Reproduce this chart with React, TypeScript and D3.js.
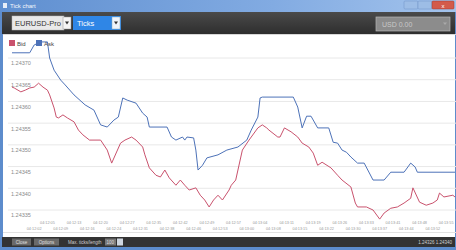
import * as d3 from "d3";

// tick index, price
const ask: [number, number][] = [
  [0, 1.243712], [8, 1.243712], [10, 1.24373], [13, 1.243737], [16, 1.243737],
  [17, 1.2437], [19, 1.243672], [22, 1.243649], [24, 1.243638], [28, 1.243615],
  [33, 1.243592], [37, 1.24358], [40, 1.243546], [43, 1.243541], [46, 1.243557],
  [48, 1.243564], [50, 1.243608], [52, 1.243603], [56, 1.243596], [59, 1.243573],
  [61, 1.243564], [62, 1.243541], [70, 1.243541], [72, 1.243518], [74, 1.243511],
  [77, 1.243518], [78, 1.243511], [79, 1.243518], [82, 1.243516], [83, 1.243488],
  [84, 1.243442], [86, 1.243453], [88, 1.24347], [93, 1.243477], [97, 1.243488],
  [102, 1.243495], [106, 1.243511], [108, 1.243534], [111, 1.243564], [112, 1.243608],
  [113, 1.24361], [127, 1.24361], [129, 1.243587], [131, 1.243539], [133, 1.243566],
  [135, 1.243566], [138, 1.243539], [143, 1.243539], [145, 1.243506], [147, 1.243504],
  [149, 1.243488], [151, 1.243483], [153, 1.243472], [156, 1.243458], [159, 1.243458],
  [163, 1.243419], [168, 1.243419], [171, 1.243437], [177, 1.243437], [180, 1.243458],
  [182, 1.243449], [183, 1.243437], [200, 1.243437],
];

const bid: [number, number][] = [
  [0, 1.243633], [1, 1.243631], [4, 1.243622], [6, 1.243626], [8, 1.243631],
  [10, 1.243633], [12, 1.243642], [14, 1.243633], [16, 1.243626], [17, 1.243615],
  [19, 1.243585], [20, 1.243564], [21, 1.243562], [23, 1.243569], [25, 1.243562],
  [28, 1.243553], [30, 1.243534], [32, 1.243523], [35, 1.243511], [40, 1.243511],
  [43, 1.243488], [45, 1.243458], [49, 1.243504], [51, 1.243511], [54, 1.243518],
  [56, 1.243511], [59, 1.243495], [60, 1.243477], [62, 1.243447], [65, 1.24343],
  [67, 1.243426], [69, 1.243442], [71, 1.243424], [74, 1.243407], [76, 1.243419],
  [78, 1.243407], [80, 1.243396], [83, 1.243401], [85, 1.243384], [87, 1.243373],
  [89, 1.243357], [91, 1.243373], [93, 1.243384], [95, 1.243373], [98, 1.243396],
  [99, 1.243407], [101, 1.243419], [104, 1.243488], [107, 1.243511], [111, 1.243539],
  [113, 1.243546], [115, 1.243539], [116, 1.243534], [120, 1.243518], [121, 1.243518],
  [123, 1.243539], [126, 1.24353], [129, 1.243518], [131, 1.243504], [134, 1.243495],
  [136, 1.243481], [138, 1.243453], [140, 1.24346], [144, 1.243447], [147, 1.24343],
  [149, 1.243419], [153, 1.243403], [155, 1.243366], [156, 1.243357], [160, 1.243357],
  [163, 1.24335], [166, 1.243329], [168, 1.243343], [171, 1.243354], [174, 1.243357],
  [177, 1.243366], [180, 1.243377], [181, 1.243401], [184, 1.243368], [187, 1.243361],
  [190, 1.243366], [192, 1.243373], [193, 1.243389], [195, 1.24338], [199, 1.243384],
  [200, 1.24338],
];

const yLabels = ["1.24370", "1.24365", "1.24360", "1.24355", "1.24350", "1.24345", "1.24340", "1.24335"];

const xLabelTicks = [10, 16, 22, 28, 34, 40, 46, 52, 58, 64, 70, 76, 82, 88, 94, 100, 106, 112, 118, 124, 130, 136, 142, 148, 154, 160, 166, 172, 178, 184, 190, 196];
const xLabels = [
  "04:12:02", "04:12:05", "04:12:09", "04:12:13", "04:12:16", "04:12:20", "04:12:24", "04:12:27",
  "04:12:31", "04:12:35", "04:12:38", "04:12:42", "04:12:46", "04:12:49", "04:12:53", "04:12:57",
  "04:13:00", "04:13:04", "04:13:08", "04:13:11", "04:13:15", "04:13:19", "04:13:22", "04:13:26",
  "04:13:30", "04:13:33", "04:13:37", "04:13:41", "04:13:44", "04:13:48", "04:13:52", "04:13:55",
];

const W = 456;
const H = 250;
const FONT = "'Liberation Sans', Arial, sans-serif";
const BID_COLOR = "#c9526d";
const ASK_COLOR = "#4d72b8";

export default function App() {
  const x = d3.scaleLinear().domain([0, 200]).range([12, 455]);
  const y = d3.scaleLinear().domain([1.24335, 1.2437]).range([210, 58]);
  const line = d3
    .line<[number, number]>()
    .x((d) => x(d[0]))
    .y((d) => y(d[1]));

  return (
    <div style={{ position: "absolute", left: 0, top: 0 }}>
      <svg width={W} height={H} style={{ display: "block", fontFamily: FONT }}>
        <defs>
          <linearGradient id="titleGrad" x1="0" y1="0" x2="1" y2="0">
            <stop offset="0" stopColor="#5f8fd0" />
            <stop offset="0.6" stopColor="#82abe2" />
            <stop offset="1" stopColor="#a3c3ec" />
          </linearGradient>
          <linearGradient id="barGrad" x1="0" y1="0" x2="0" y2="1">
            <stop offset="0" stopColor="#4a4a4a" />
            <stop offset="1" stopColor="#2e2e2e" />
          </linearGradient>
        </defs>

        {/* window frame */}
        <rect x={0} y={0} width={W} height={H} fill="#5d8ccc" />
        <rect x={0} y={0} width={W} height={12} fill="url(#titleGrad)" />
        <rect x={3} y={3} width={4} height={5} fill="#e8eef8" />
        <text x={10} y={8} fontSize={6} fill="#f4f7fc">Tick chart</text>
        <rect x={404} y={1} width={14} height={8} rx={1} fill="#9dbde6" stroke="#6f93c4" strokeWidth={0.5} />
        <rect x={418} y={1} width={14} height={8} rx={1} fill="#9dbde6" stroke="#6f93c4" strokeWidth={0.5} />
        <rect x={432} y={1} width={22} height={8} rx={1} fill="#d35a4a" stroke="#9d3b30" strokeWidth={0.5} />
        <text x={443} y={7.5} fontSize={6} fill="#fff" textAnchor="middle">x</text>

        {/* toolbar */}
        <rect x={2} y={12} width={W - 3} height={22} fill="url(#barGrad)" />
        <rect x={12} y={16} width={52} height={14} fill="#e9e9e9" stroke="#bdbdbd" strokeWidth={0.5} />
        <text x={15} y={26} fontSize={7.5} fill="#333">EURUSD-Pro</text>
        <rect x={63} y={17} width={8} height={12} fill="#f5f5f5" stroke="#999" strokeWidth={0.5} />
        <path d="M65,21.5 L69,21.5 L67,24.5 Z" fill="#333" />
        <rect x={73} y={16} width={48} height={14} fill="#2f86e6" />
        <text x={77} y={26} fontSize={7.5} fill="#fff">Ticks</text>
        <rect x={112} y={17} width={8} height={12} fill="#f0f4fa" stroke="#8ab" strokeWidth={0.5} />
        <path d="M114,21.5 L118,21.5 L116,24.5 Z" fill="#333" />
        <rect x={376} y={17} width={74} height={14} fill="#8c8c8c" stroke="#b5b5b5" strokeWidth={0.7} />
        <text x={382} y={27} fontSize={7} fill="#c8c8c8">USD 0.00</text>
        <path d="M443,22.5 L447,22.5 L445,25 Z" fill="#aaa" />

        {/* chart area */}
        <rect x={3} y={34} width={W - 4} height={203} fill="#ffffff" />
        <line x1={3} x2={W} y1={34.5} y2={34.5} stroke="#d8d8d8" />

        {yLabels.map((lbl) => {
          const v = parseFloat(lbl);
          return (
            <g key={lbl}>
              <line x1={8} x2={W} y1={y(v)} y2={y(v)} stroke="#e8e8e8" strokeWidth={1} />
              <text x={11} y={y(v) + 6} dominantBaseline="middle" fontSize={5.5} fill="#8a8a8a">
                {lbl}
              </text>
            </g>
          );
        })}

        {xLabelTicks.map((t, i) => (
          <text
            key={t}
            x={x(t)}
            y={i % 2 === 0 ? 229.5 : 224}
            textAnchor="middle"
            fontSize={3.8}
            fill="#999"
          >
            {xLabels[i]}
          </text>
        ))}
        <line x1={3} x2={W} y1={232.5} y2={232.5} stroke="#e2e2e2" />

        <path d={line(bid) ?? ""} fill="none" stroke={BID_COLOR} strokeWidth={1} />
        <path d={line(ask) ?? ""} fill="none" stroke={ASK_COLOR} strokeWidth={1} />

        {/* legend */}
        <rect x={9} y={40} width={6} height={6} fill={BID_COLOR} />
        <text x={17} y={45.5} fontSize={6} fill="#444">Bid</text>
        <rect x={36} y={40} width={6} height={6} fill={ASK_COLOR} />
        <text x={44} y={45.5} fontSize={6} fill="#444">Ask</text>

        {/* status bar */}
        <rect x={2} y={237} width={W - 3} height={10} fill="#333" />
        <rect x={12} y={238.5} width={19} height={7} fill="#6a6a6a" />
        <text x={21.5} y={244} fontSize={4.5} fill="#e0e0e0" textAnchor="middle">Close</text>
        <rect x={34} y={238.5} width={25} height={7} fill="#6a6a6a" />
        <text x={46.5} y={244} fontSize={4.5} fill="#e0e0e0" textAnchor="middle">Options</text>
        <text x={68} y={244} fontSize={4.5} fill="#cfcfcf">Max. ticks/length</text>
        <rect x={105} y={238.5} width={11} height={7} fill="#777" />
        <text x={106.5} y={244} fontSize={4.5} fill="#ddd">100</text>
        <rect x={117} y={238.5} width={6} height={7} fill="#cfd6df" />
        <text x={452} y={244} fontSize={4.5} fill="#cfcfcf" textAnchor="end">1.24326  1.24340</text>
      </svg>
    </div>
  );
}
